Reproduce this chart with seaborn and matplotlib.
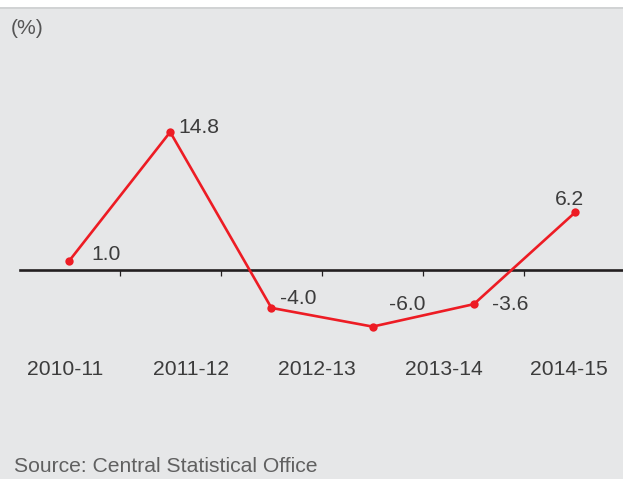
import numpy as np
import pandas as pd
import seaborn as sns
from matplotlib import pyplot as plt
from matplotlib.patches import Rectangle

# data
growth = [1.0, 14.8, -4.0, -6.0, -3.6, 6.2]
value_labels = ['1.0', '14.8', '-4.0', '-6.0', '-3.6', '6.2']
periods = ['2010-11', '2011-12', '2012-13', '2013-14', '2014-15']

sns.set_theme(style='white')
plt.rcParams['font.family'] = ['Liberation Sans', 'DejaVu Sans']

BG = '#e6e7e8'
RED = '#ed1c24'
TXT = '#3c3c3c'
FS = 15.2

fig = plt.figure(figsize=(6.23, 4.79), dpi=100)
fig.patch.set_facecolor(BG)
# white strip + thin darker rule along the top edge
fig.patches.append(Rectangle((0, 1 - 7 / 479), 1, 7 / 479, transform=fig.transFigure,
                             facecolor='white', edgecolor='none', zorder=0))
fig.patches.append(Rectangle((0, 1 - 9 / 479), 1, 2 / 479, transform=fig.transFigure,
                             facecolor='#d1d3d4', edgecolor='none', zorder=0))

ax = fig.add_axes([20 / 623, 1 - 350 / 479, 603 / 623, 290 / 479])
ax.set_facecolor('none')

df = pd.DataFrame({'pos': np.arange(len(growth)), 'growth': growth})
sns.lineplot(data=df, x='pos', y='growth', ax=ax, color=RED, linewidth=1.9,
             marker='o', markersize=6, markeredgewidth=0, zorder=3)

ax.set_xlim(-0.484, 5.474)
ax.set_ylim(-8.5, 22.5)

for s in ['top', 'right', 'left']:
    ax.spines[s].set_visible(False)
ax.spines['bottom'].set_position(('data', 0))
ax.spines['bottom'].set_color('#231f20')
ax.spines['bottom'].set_linewidth(1.9)
ax.spines['bottom'].set_zorder(2)

ax.set_yticks([])
ax.set_xlabel('')
ax.set_ylabel('')
ax.set_xticks([0.5, 1.5, 2.5, 3.5, 4.5])
ax.set_xticklabels([])
ax.tick_params(axis='x', which='major', direction='out', length=4.5, width=0.9,
               color='#231f20', bottom=True)
ax.set_xticks([-0.04, 1.21, 2.45, 3.70, 4.94], minor=True)
ax.set_xticklabels(periods, minor=True)
ax.tick_params(axis='x', which='minor', length=0, pad=64.5, labelsize=FS,
               labelcolor=TXT)

# value labels, offsets in points
offsets = [(16, -5, 'left'), (6, -3, 'left'), (6, -7, 'left'),
           (25, -16, 'center'), (13, 0, 'left'), (-4, -9, 'center')]
for i, (v, lab) in enumerate(zip(growth, value_labels)):
    dx, dy, ha = offsets[i]
    ax.annotate(lab, (i, v), xytext=(dx, -dy), textcoords='offset points',
                ha=ha, va='center', fontsize=FS, color=TXT)

fig.text(11 / 623, 1 - 28 / 479, '(%)', fontsize=FS, color='#555555',
         ha='left', va='center')
fig.text(14 / 623, 1 - 466 / 479, 'Source: Central Statistical Office',
         fontsize=FS, color='#606060', ha='left', va='center')

plt.savefig('out.png', dpi=100, facecolor=fig.get_facecolor())
